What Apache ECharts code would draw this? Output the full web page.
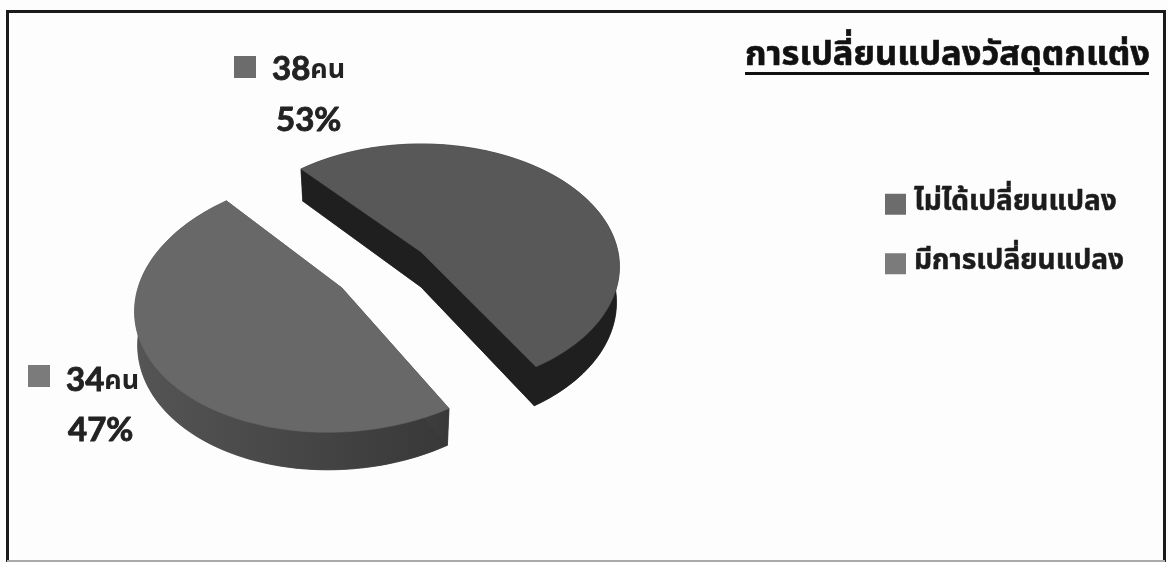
<!DOCTYPE html>
<html>
<head>
<meta charset="utf-8">
<style>html,body{margin:0;padding:0;background:#fdfdfd}#c{width:1168px;height:562px}</style>
<script src="https://cdn.jsdelivr.net/npm/echarts@6/dist/echarts.min.js"></script>
</head>
<body>
<div id="c"></div>
<script>
// Survey result: whether the decoration materials were changed
const chartTitle = 'การเปลี่ยนแปลงวัสดุตกแต่ง';
const categories = ['ไม่ได้เปลี่ยนแปลง', 'มีการเปลี่ยนแปลง'];
const counts = [38, 34];
const unit = 'คน';

const THAI = '"Noto Sans Thai","Noto Sans","DejaVu Sans",sans-serif';
const LATIN = 'Lato,"Open Sans",sans-serif';
const INK = '#222222';
const total = counts.reduce((a, b) => a + b, 0);
const firstAngle = -41.6;   // clockwise from twelve o'clock
const tilt = 0.12;          // strength of the perspective towards the viewer

// Projection and styling of each exploded slice
const sliceStyles = [
  { cx: 421, cy: 252, rx: 197, ry: 121, shear: 0, depth: 35, top: '#585858', side: '#1f1f1f', side2: '#1f1f1f',
    key: '#6c6c6c', keyX: 234, keyY: 56, numX: 272, numY: 46, pctX: 276, pctY: 104 },
  { cx: 342, cy: 288, rx: 204, ry: 127, shear: -0.1, depth: 33, top: '#686868', side: '#555555', side2: '#383838',
    key: '#7b7b7b', keyX: 28, keyY: 365, numX: 66, numY: 357, pctX: 68, pctY: 414 }
];

function project(s, deg, lower) {
  const t = deg * Math.PI / 180, u = Math.sin(t), v = -Math.cos(t);
  const k = 1 / (1 - tilt * v);
  const y = s.ry * v * k;
  const x = (s.rx * u * k + s.shear * y) * (lower ? 0.985 : 1);
  return [s.cx + x, s.cy + y + (lower ? s.depth * k : 0)];
}

function sliceItem(index) {
  return function (params, api) {
    const s = sliceStyles[index];
    const value = api.value(0);
    const before = counts.slice(0, index).reduce((a, b) => a + b, 0);
    const a0 = firstAngle + before / total * 360;
    const a1 = a0 + value / total * 360;
    const rimTop = [], rimLow = [];
    for (let i = 0; i <= 120; i++) {
      const a = a0 + (a1 - a0) * i / 120;
      rimTop.push(project(s, a, false));
      rimLow.push(project(s, a, true));
    }
    const apexTop = [s.cx, s.cy], apexLow = [s.cx, s.cy + s.depth];
    const sideFill = { type: 'linear', x: 0, y: 0, x2: 1, y2: 0, colorStops: [
      { offset: 0, color: s.side }, { offset: 1, color: s.side2 }] };
    const poly = (points, fill) => ({
      type: 'polygon', shape: { points },
      style: { fill, stroke: fill, lineWidth: 0.5 }
    });
    const pct = Math.round(value / total * 100);
    return {
      type: 'group',
      children: [
        poly([apexLow].concat(rimLow), sideFill),
        poly(rimTop.concat(rimLow.slice().reverse()), sideFill),
        poly([apexTop, rimTop[0], rimLow[0], apexLow], sideFill),
        poly([apexTop, rimTop[120], rimLow[120], apexLow], sideFill),
        poly([apexTop].concat(rimTop), s.top),
        { type: 'rect', shape: { x: s.keyX, y: s.keyY, width: 22, height: 22 },
          style: { fill: s.key } },
        { type: 'text', style: {
            x: s.numX, y: s.numY,
            text: '{n|' + value + '}{u|' + unit + '}',
            rich: {
              n: { font: 'bold 33px ' + LATIN, fill: INK, stroke: INK, lineWidth: 0.9, verticalAlign: 'bottom', lineHeight: 40 },
              u: { font: 'bold 27px ' + THAI, fill: INK, verticalAlign: 'bottom', lineHeight: 38 }
            } } },
        { type: 'text', style: {
            x: s.pctX, y: s.pctY, text: pct + '%',
            font: 'bold 33px ' + LATIN, fill: INK, stroke: INK, lineWidth: 0.9 } }
      ]
    };
  };
}

const chart = echarts.init(document.getElementById('c'));
chart.setOption({
  animation: false,
  backgroundColor: '#fdfdfd',
  title: {
    text: chartTitle, left: 745, top: 41, padding: 0,
    textStyle: { fontFamily: THAI, fontWeight: 'bold', fontSize: 34.5, color: '#111',
      textBorderColor: '#111', textBorderWidth: 0.6 }
  },
  legend: {
    orient: 'vertical', left: 885, top: 190, itemGap: 31, padding: 0,
    itemWidth: 21, itemHeight: 21, icon: 'rect', data: categories,
    textStyle: { fontFamily: THAI, fontWeight: 'bold', fontSize: 28, color: '#1c1c1c',
      textBorderColor: '#1c1c1c', textBorderWidth: 0.5, padding: [0, 0, 0, 3] }
  },
  series: categories.map((name, i) => ({
    type: 'custom', name, coordinateSystem: 'none',
    itemStyle: { color: sliceStyles[i].key },
    data: [[counts[i]]],
    renderItem: sliceItem(i),
    silent: true
  })),
  graphic: [
    // Chart frame and the rule under the heading
    { type: 'rect', shape: { x: 7.5, y: 11.5, width: 1157, height: 560 },
      style: { fill: 'transparent', stroke: '#1a1a1a', lineWidth: 3 } },
    { type: 'rect', shape: { x: 7, y: 560, width: 1158, height: 2 }, style: { fill: '#aaaaaa' } },
    { type: 'rect', shape: { x: 745, y: 72, width: 404, height: 3 }, style: { fill: '#111' } }
  ]
});
</script>
</body>
</html>
